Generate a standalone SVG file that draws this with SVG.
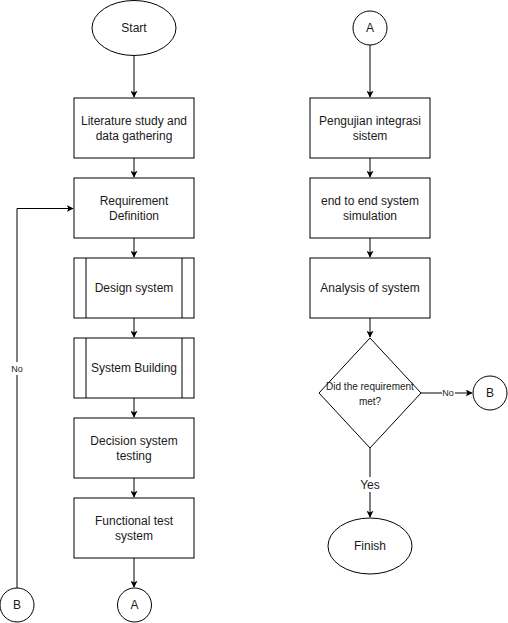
<svg xmlns="http://www.w3.org/2000/svg" width="508" height="623" viewBox="0 0 508 623">
<style>
.n{fill:#fff;stroke:#000;stroke-width:1}
.t{font-family:"Liberation Sans",Arial,sans-serif;font-size:12px;fill:#1a1a1a;text-anchor:middle}
.s{font-size:10px}
.e{stroke:#000;stroke-width:1;fill:none}
.lb{font-family:"Liberation Sans",Arial,sans-serif;font-size:9px;fill:#1a1a1a;text-anchor:middle}
</style>
<defs>
<marker id="ah" viewBox="0 0 10 10" refX="9" refY="5" markerWidth="7" markerHeight="7" markerUnits="userSpaceOnUse" orient="auto">
<path d="M0,0 L10,5 L0,10 L2.5,5 Z" fill="#000"/>
</marker>
</defs>
<rect width="508" height="623" fill="#fff"/>
<g id="edges">
<path class="e" d="M134,56 V97" marker-end="url(#ah)"/>
<path class="e" d="M134,158 V177" marker-end="url(#ah)"/>
<path class="e" d="M134,238 V257" marker-end="url(#ah)"/>
<path class="e" d="M134,318 V337" marker-end="url(#ah)"/>
<path class="e" d="M134,398 V417" marker-end="url(#ah)"/>
<path class="e" d="M134,478 V497" marker-end="url(#ah)"/>
<path class="e" d="M134,558 V587" marker-end="url(#ah)"/>
<path class="e" d="M17,588 V208.5 H73" marker-end="url(#ah)"/>
<rect x="10" y="362" width="15" height="13" fill="#fff"/>
<text class="lb" x="17" y="372">No</text>
<path class="e" d="M370,45 V97" marker-end="url(#ah)"/>
<path class="e" d="M370,158 V177" marker-end="url(#ah)"/>
<path class="e" d="M370,238 V257" marker-end="url(#ah)"/>
<path class="e" d="M370,318 V337" marker-end="url(#ah)"/>
<path class="e" d="M421,393 H472" marker-end="url(#ah)"/>
<rect x="442" y="387" width="13" height="12" fill="#fff"/>
<text class="lb" x="448" y="396">No</text>
<path class="e" d="M370,448 V517" marker-end="url(#ah)"/>
<rect x="358" y="477" width="24" height="15" fill="#fff"/>
<text class="t" x="370" y="489">Yes</text>
</g>
<g id="start"><ellipse class="n" cx="134" cy="28" rx="42" ry="27.5"/><text class="t" x="134" y="32">Start</text></g>
<g id="lit"><rect class="n" x="74" y="98" width="120" height="60"/><text class="t" x="134" y="125">Literature study and</text><text class="t" x="134" y="140">data gathering</text></g>
<g id="req"><rect class="n" x="74" y="178" width="120" height="60"/><text class="t" x="134" y="205">Requirement</text><text class="t" x="134" y="220">Definition</text></g>
<g id="design"><rect class="n" x="74" y="258" width="120" height="60"/><path class="e" d="M86,258 V318 M182,258 V318"/><text class="t" x="134" y="292">Design system</text></g>
<g id="build"><rect class="n" x="74" y="338" width="120" height="60"/><path class="e" d="M86,338 V398 M182,338 V398"/><text class="t" x="134" y="372">System Building</text></g>
<g id="dec"><rect class="n" x="74" y="418" width="120" height="60"/><text class="t" x="134" y="445">Decision system</text><text class="t" x="134" y="460">testing</text></g>
<g id="func"><rect class="n" x="74" y="498" width="120" height="60"/><text class="t" x="134" y="525">Functional test</text><text class="t" x="134" y="540">system</text></g>
<g id="a1"><circle class="n" cx="134.5" cy="605" r="17"/><text class="t" x="134.5" y="609">A</text></g>
<g id="b1"><circle class="n" cx="17" cy="605" r="17"/><text class="t" x="17" y="609">B</text></g>
<g id="a2"><circle class="n" cx="370" cy="28" r="17"/><text class="t" x="370" y="32">A</text></g>
<g id="peng"><rect class="n" x="310" y="98" width="120" height="60"/><text class="t" x="370" y="125">Pengujian integrasi</text><text class="t" x="370" y="140">sistem</text></g>
<g id="e2e"><rect class="n" x="310" y="178" width="120" height="60"/><text class="t" x="370" y="205">end to end system</text><text class="t" x="370" y="220">simulation</text></g>
<g id="ana"><rect class="n" x="310" y="258" width="120" height="60"/><text class="t" x="370" y="292">Analysis of system</text></g>
<g id="dia"><path class="n" stroke="#444" d="M370,338 L421,393 L370,448 L319,393 Z"/><text class="t s" x="370" y="390">Did the requirement</text><text class="t s" x="370" y="405">met?</text></g>
<g id="b2"><circle class="n" cx="490" cy="393" r="17"/><text class="t" x="490" y="397">B</text></g>
<g id="finish"><ellipse class="n" cx="370" cy="546" rx="42" ry="28"/><text class="t" x="370" y="550">Finish</text></g>
</svg>
